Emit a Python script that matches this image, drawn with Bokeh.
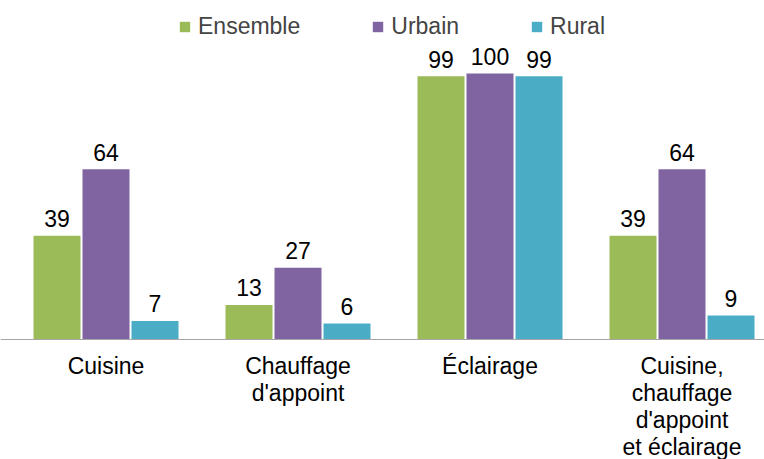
from bokeh.plotting import figure
from bokeh.models import ColumnDataSource, Span, Legend, LegendItem
from bokeh.core.properties import value
from bokeh.embed import file_html
from bokeh.resources import INLINE

categories = ["Cuisine", "Chauffage\nd'appoint", "Éclairage", "Cuisine,\nchauffage\nd'appoint\net éclairage"]
series_names = ["Ensemble", "Urbain", "Rural"]
ensemble = [39, 13, 99, 39]
urbain = [64, 27, 100, 64]
rural = [7, 6, 99, 9]
colors = ["#9BBB59", "#8064A2", "#4BACC6"]

FONT = "Liberation Sans"
FS = "23px"
PX_PER_CAT = 192.0
W, H = 764, 459
x0 = -0.5 - 9.5 / PX_PER_CAT
x1 = x0 + W / PX_PER_CAT
PX_PER_UNIT = 2.66
base_px = 339
y_top = base_px / PX_PER_UNIT
y_bot = -(H - base_px) / PX_PER_UNIT

p = figure(width=W, height=H, x_range=(x0, x1), y_range=(y_bot, y_top),
           output_backend="svg", toolbar_location=None, min_border=0,
           outline_line_color=None)
p.xaxis.visible = False
p.yaxis.visible = False
p.grid.visible = False

offsets = [-49 / PX_PER_CAT, 0.0, 49 / PX_PER_CAT]
bar_w = 47 / PX_PER_CAT
renderers = []
for vals, off, col in zip([ensemble, urbain, rural], offsets, colors):
    src = ColumnDataSource(dict(x=[i + off for i in range(len(categories))], top=vals,
                                lab=[str(v) for v in vals]))
    r = p.vbar(x="x", top="top", bottom=0, width=bar_w, source=src,
               fill_color=col, line_color=None)
    renderers.append(r)
    p.text(x="x", y="top", text="lab", source=src, text_align="center",
           text_baseline="alphabetic", y_offset=-17, text_font=value(FONT),
           text_font_size=FS, text_color="#000000")

p.add_layout(Span(location=0, dimension="width", line_color="#A6A6A6", line_width=1))

cat_src = ColumnDataSource(dict(x=list(range(len(categories))), y=[-4.9] * len(categories),
                                t=categories))
p.text(x="x", y="y", text="t", source=cat_src, text_align="center", text_baseline="top",
       text_font=value(FONT), text_font_size=FS, text_color="#000000",
       text_line_height=1.04)

legend = Legend(items=[LegendItem(label=n, renderers=[r]) for n, r in zip(series_names, renderers)],
                orientation="horizontal", location=(178, 419),
                glyph_width=13, glyph_height=13, label_standoff=7, spacing=71,
                label_text_font=FONT, label_text_font_size=FS,
                border_line_color=None, background_fill_alpha=0,
                padding=0, margin=0)
p.add_layout(legend)

open("out.html", "w").write(file_html(p, INLINE))
